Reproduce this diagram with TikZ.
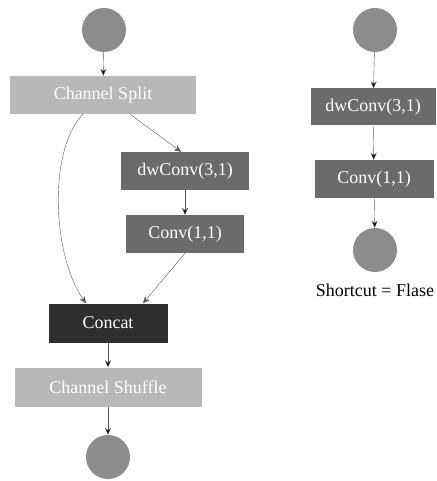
\documentclass[tikz,border=0pt]{standalone}
\usepackage{fontspec}
\setmainfont{Liberation Serif}
\usepackage{tikz}
\usetikzlibrary{arrows.meta}

\begin{document}
\begin{tikzpicture}[x=1pt, y=-1pt, >={Stealth[length=7pt,width=6pt]},
		circ_style/.style={circle,fill=black!45,minimum size=44pt,inner sep=0pt},
		light_style/.style={rectangle,fill=black!28,text=white,font=\rmfamily\fontsize{18}{20}\selectfont,minimum height=38pt,inner sep=0pt},
		dark_style/.style={rectangle,fill=black!58,text=white,font=\rmfamily\fontsize{18}{20}\selectfont,minimum height=38pt,inner sep=0pt},
		cat_style/.style={rectangle,fill=black!82,text=white,font=\rmfamily\fontsize{18}{20}\selectfont,minimum height=39pt,inner sep=0pt},
		edge_style/.style={draw=black!65,->}]

		\useasboundingbox (0,0) rectangle (436,481);

		\node[circ_style] (in) at (104,30)  {};
		\node[light_style,minimum width=186pt] (split) at (103,95)  {Channel Split};
		\node[dark_style,minimum width=128pt] (dw) at (185,171)  {dwConv(3,1)};
		\node[dark_style,minimum width=118pt] (pw) at (185,234)  {Conv(1,1)};
		\node[cat_style,minimum width=119pt] (cat) at (108,323)  {Concat};
		\node[light_style,minimum width=187pt,minimum height=39pt] (shuf) at (108,387)  {Channel Shuffle};
		\node[circ_style] (out) at (108,457)  {};

		\node[circ_style] (rin) at (375,30)  {};
		\node[dark_style,minimum width=125pt,minimum height=37pt] (rdw) at (373,107)  {dwConv(3,1)};
		\node[dark_style,minimum width=119pt] (rpw) at (374,179)  {Conv(1,1)};
		\node[circ_style] (rout) at (375,250)  {};
		\node[font=\rmfamily\fontsize{18}{20}\selectfont] (cap) at (375,290)  {Shortcut = Flase};

		% anchor points on the box edges
		\coordinate (split_r) at ([xshift=27pt]split.south);
		\coordinate (split_l) at ([xshift=-20pt]split.south);
		\coordinate (dw_t) at ([xshift=-4pt]dw.north);
		\coordinate (cat_l) at ([xshift=-22pt]cat.north);
		\coordinate (cat_r) at ([xshift=35pt]cat.north);

		\draw[edge_style]  (in) edge (split);
		\draw[edge_style]  (split_r) -- (dw_t);
		\draw[edge_style]  (split_l) .. controls (48,150) and (52,255) .. (cat_l);
		\draw[edge_style]  (dw) edge (pw);
		\draw[edge_style]  (pw.south) -- (cat_r);
		\draw[edge_style]  (cat) edge (shuf);
		\draw[edge_style]  (shuf) edge (out);

		\draw[edge_style]  (rin) edge (rdw);
		\draw[edge_style]  (rdw) edge (rpw);
		\draw[edge_style]  (rpw) edge (rout);
		\end{tikzpicture}
\end{document}
